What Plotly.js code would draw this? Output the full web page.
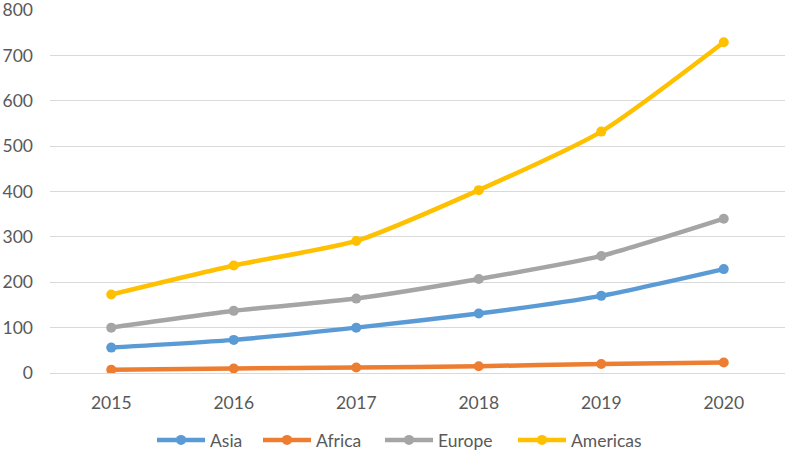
<!DOCTYPE html>
<html>
<head>
<meta charset="utf-8">
<script src="https://cdn.plot.ly/plotly-3.0.1.min.js"></script>
<style>html,body{margin:0;padding:0;background:#fff;}#chart{width:786px;height:456px;}</style>
</head>
<body>
<div id="chart"></div>
<script>
var years = ['2015', '2016', '2017', '2018', '2019', '2020'];
var asia = [56, 73, 100, 131, 170, 229];
var africa = [7, 10, 12, 15, 20, 23];
var europe = [100, 137, 164, 207, 258, 340];
var americas = [173, 237, 291, 403, 532, 729];
var seriesNames = ['Asia', 'Africa', 'Europe', 'Americas'];
var seriesColors = ['#5B9BD5', '#ED7D31', '#A5A5A5', '#FFC000'];
var seriesValues = [asia, africa, europe, americas];
var legendIds = ['legend', 'legend2', 'legend3', 'legend4'];
var legendLeft = [152, 258, 380, 513];

var traces = seriesValues.map(function (vals, i) {
  return {
    x: years, y: vals, name: seriesNames[i], type: 'scatter', mode: 'lines+markers',
    legend: legendIds[i],
    line: {color: seriesColors[i], width: 4.5, shape: 'spline', smoothing: 0.6},
    marker: {color: seriesColors[i], size: 10}
  };
});

var font = {family: 'Lato, "Open Sans", sans-serif', size: 17.5, color: '#595959'};
var layout = {
  width: 786, height: 456,
  margin: {l: 50, r: 1, t: 10, b: 83},
  paper_bgcolor: '#fff', plot_bgcolor: '#fff',
  font: font,
  showlegend: true,
  xaxis: {type: 'category', showgrid: false, zeroline: false, showline: false,
          ticks: '', ticklabelstandoff: 17, tickfont: font, range: [-0.5, 5.5]},
  yaxis: {range: [0, 800], dtick: 100, showgrid: true, gridcolor: '#D9D9D9', gridwidth: 1,
          zeroline: true, zerolinecolor: '#D9D9D9', zerolinewidth: 1, showline: false,
          ticks: '', ticklabelstandoff: 16, tickfont: font, ticklabeloverflow: 'allow'}
};
legendIds.forEach(function (id, i) {
  layout[id] = {orientation: 'h', xref: 'container', yref: 'container',
                x: legendLeft[i] / 786, xanchor: 'left', y: 16 / 456, yanchor: 'middle',
                font: font, itemwidth: 48, bgcolor: 'rgba(0,0,0,0)'};
});
Plotly.newPlot('chart', traces, layout, {displayModeBar: false, staticPlot: true});
</script>
</body>
</html>
